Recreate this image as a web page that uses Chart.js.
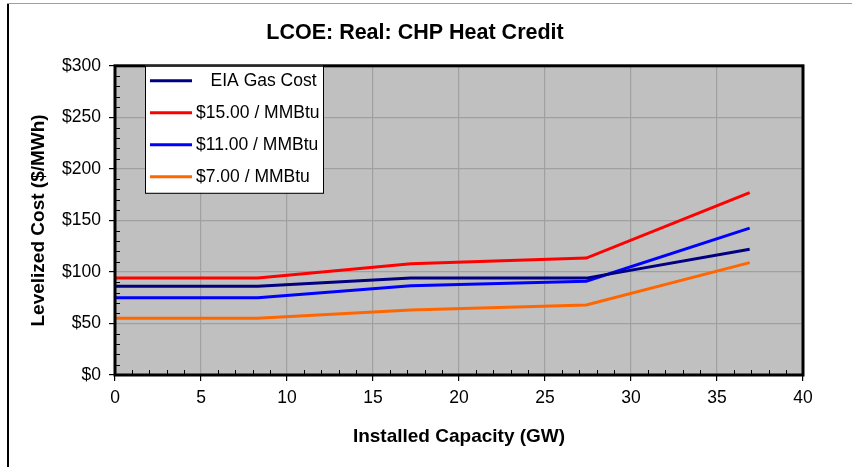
<!DOCTYPE html>
<html lang="en">

<head>
    <meta charset="UTF-8">
    <script src="https://cdn.jsdelivr.net/npm/chart.js"></script>
    <title>LCOE: Real: CHP Heat Credit</title>
    <style>
        body { margin: 0; background: #fff; }
    </style>
</head>

<body>
    <canvas id="chart-lcoe" width="852" height="467"></canvas>
</body>

</html>

<script>
    // capacidade instalada (GW) e custos ($/MWh)
    const capacity = [0, 8.3, 17.2, 27.4, 36.9];
    const eiaGas = [86, 86, 94, 94, 122];
    const gas15 = [94, 94, 108, 113.5, 177];
    const gas11 = [75, 75, 86.5, 91, 142.5];
    const gas7 = [55, 55, 63, 68, 109];

    const seriesLabels = ['   EIA Gas Cost', '$15.00 / MMBtu', '$11.00 / MMBtu', '$7.00 / MMBtu'];
    const seriesColors = ['#000080', '#ff0000', '#0000ff', '#ff6600'];
    const seriesValues = [eiaGas, gas15, gas11, gas7];

    const xTicks = [0, 5, 10, 15, 20, 25, 30, 35, 40];
    const yTicks = [0, 50, 100, 150, 200, 250, 300];

    const FONT = 'Arial, "Liberation Sans", sans-serif';

    function pontos(valores) {
        return valores.map((v, i) => ({ x: capacity[i], y: v }));
    }

    // fundo cinza, moldura, ticks menores e legenda dentro do grafico
    const excelLook = {
        id: 'excelLook',
        beforeDraw(chart) {
            const c = chart.ctx;
            const a = chart.chartArea;
            c.save();
            c.fillStyle = '#a0a0a0';
            c.fillRect(7, 3, 845, 1);
            c.fillStyle = '#000';
            c.fillRect(7, 4, 2, 463);
            c.fillStyle = '#c0c0c0';
            c.fillRect(a.left, a.top, a.right - a.left, a.bottom - a.top);
            c.restore();
        },
        afterDraw(chart) {
            const c = chart.ctx;
            const a = chart.chartArea;
            const xs = chart.scales.x;
            const ys = chart.scales.y;
            c.save();
            // ticks menores
            c.strokeStyle = '#000';
            c.lineWidth = 1;
            c.beginPath();
            for (let v = 10; v < 300; v += 10) {
                if (v % 50 === 0) continue;
                const py = Math.round(ys.getPixelForValue(v)) + 0.5;
                c.moveTo(a.left, py);
                c.lineTo(a.left + 5, py);
            }
            for (let v = 1; v < 40; v++) {
                if (v % 5 === 0) continue;
                const px = Math.round(xs.getPixelForValue(v)) + 0.5;
                c.moveTo(px, a.bottom);
                c.lineTo(px, a.bottom - 5);
            }
            c.stroke();
            // moldura
            c.lineWidth = 3;
            c.strokeRect(a.left, a.top, a.right - a.left, a.bottom - a.top);

            // legenda
            const lx = a.left + 30;
            const ly = a.top;
            const lw = 178;
            const lh = 127;
            c.fillStyle = '#fff';
            c.fillRect(lx, ly, lw, lh);
            c.lineWidth = 1;
            c.strokeStyle = '#000';
            c.strokeRect(lx + 0.5, ly + 0.5, lw, lh);
            c.font = '17.5px ' + FONT;
            c.textBaseline = 'middle';
            c.textAlign = 'left';
            chart.data.datasets.forEach((ds, i) => {
                const ry = ly + 15 + i * 32;
                c.strokeStyle = ds.borderColor;
                c.lineWidth = 3;
                c.beginPath();
                c.moveTo(lx + 5, ry);
                c.lineTo(lx + 47, ry);
                c.stroke();
                c.fillStyle = '#000';
                c.fillText(ds.label, lx + 51, ry);
            });
            c.restore();
        }
    };

    const ctxLcoe = document.getElementById('chart-lcoe');

    new Chart(ctxLcoe, {
        type: 'line',
        data: {
            datasets: seriesValues.map((vals, i) => ({
                label: seriesLabels[i],
                data: pontos(vals),
                borderColor: seriesColors[i],
                backgroundColor: seriesColors[i],
                borderWidth: 3,
                pointRadius: 0,
                tension: 0
            }))
        },
        options: {
            responsive: false,
            animation: false,
            layout: {
                padding: { left: 27, right: 49, top: 0, bottom: 0 }
            },
            plugins: {
                legend: { display: false },
                tooltip: { enabled: false },
                title: {
                    display: true,
                    text: 'LCOE: Real: CHP Heat Credit',
                    color: '#000',
                    font: { family: FONT, size: 21.5, weight: 'bold' },
                    padding: { top: 20, bottom: 20 }
                }
            },
            scales: {
                x: {
                    type: 'linear',
                    min: 0,
                    max: 40,
                    afterBuildTicks(scale) {
                        scale.ticks = xTicks.map(v => ({ value: v }));
                    },
                    afterFit(scale) {
                        scale.height = 92;
                    },
                    ticks: {
                        color: '#000',
                        font: { family: FONT, size: 17.5 },
                        padding: 7,
                        maxRotation: 0
                    },
                    grid: {
                        color: '#a0a0a0',
                        tickColor: '#000',
                        tickLength: 6,
                        lineWidth: 1.2
                    },
                    border: { display: false },
                    title: {
                        display: true,
                        text: 'Installed Capacity (GW)',
                        color: '#000',
                        font: { family: FONT, size: 19, weight: 'bold' },
                        padding: { top: 4, bottom: 19 }
                    }
                },
                y: {
                    min: 0,
                    max: 300,
                    afterBuildTicks(scale) {
                        scale.ticks = yTicks.map(v => ({ value: v }));
                    },
                    afterFit(scale) {
                        scale.width = 88;
                    },
                    ticks: {
                        color: '#000',
                        font: { family: FONT, size: 17.5 },
                        padding: 8,
                        callback: v => '$' + v
                    },
                    grid: {
                        color: '#a0a0a0',
                        tickColor: '#000',
                        tickLength: 6,
                        lineWidth: 1.2
                    },
                    border: { display: false },
                    title: {
                        display: true,
                        text: 'Levelized Cost ($/MWh)',
                        color: '#000',
                        font: { family: FONT, size: 19, weight: 'bold' },
                        padding: { top: 0, bottom: 4 }
                    }
                }
            }
        },
        plugins: [excelLook]
    });
</script>
